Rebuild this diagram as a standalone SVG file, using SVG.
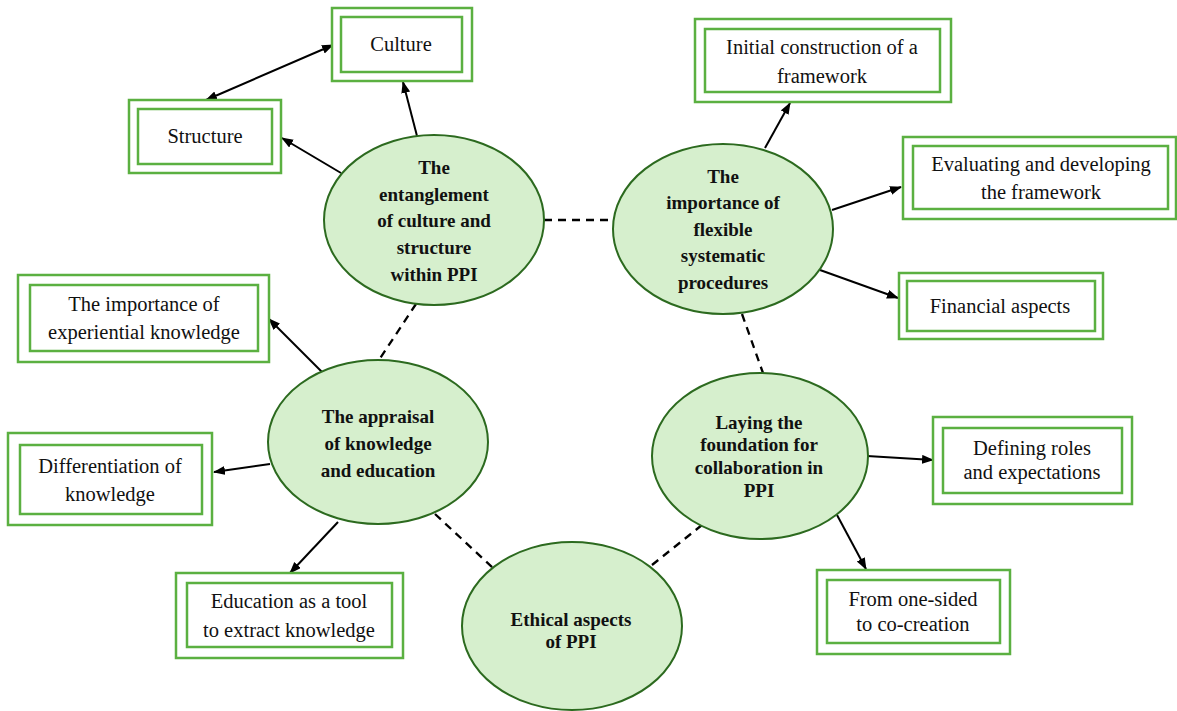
<svg xmlns="http://www.w3.org/2000/svg" width="1177" height="711" viewBox="0 0 1177 711">
<style>
.bo{fill:#fff;stroke:#5bb041;stroke-width:2.5}
.bi{fill:none;stroke:#5bb041;stroke-width:2.5}
.el{fill:#d6efcd;stroke:#2c6a1f;stroke-width:2}
.bt{font-family:"Liberation Serif",serif;font-size:20.5px;fill:#111;text-anchor:middle}
.et{font-family:"Liberation Serif",serif;font-size:19px;font-weight:bold;fill:#111;text-anchor:middle}
.ar{stroke:#000;stroke-width:2;fill:none;marker-end:url(#ah)}
.da{stroke:#000;stroke-width:2.3;fill:none;stroke-dasharray:8 6}
</style>
<defs>
<marker id="ah" markerUnits="userSpaceOnUse" markerWidth="12" markerHeight="10" refX="11" refY="4.5" orient="auto-start-reverse">
<path d="M0,0 L12,4.5 L0,9 z" fill="#000"/>
</marker>
</defs>
<rect width="1177" height="711" fill="#fff"/>
<g id="connectors">
<path class="ar" d="M333,45 L206,100" marker-start="url(#ah)"/>
<path class="ar" d="M417,136 L403,82"/>
<path class="ar" d="M341,173 L282,138"/>
<path class="ar" d="M765,148 L790,103"/>
<path class="ar" d="M832,210 L901,187"/>
<path class="ar" d="M820,270 L898,298"/>
<path class="ar" d="M322,372 L269,319"/>
<path class="ar" d="M270,464 L214,472"/>
<path class="ar" d="M338,522 L290,573"/>
<path class="ar" d="M867,456 L933,460"/>
<path class="ar" d="M837,515 L866,569"/>
<path class="da" d="M544,220 L613,220"/>
<path class="da" d="M416,304 L379,360"/>
<path class="da" d="M742,314 L763,373"/>
<path class="da" d="M435,514 L493,568"/>
<path class="da" d="M652,565 L702,525"/>
</g>
<g id="e1">
<ellipse class="el" cx="434" cy="220" rx="110" ry="85"/>
<text class="et" x="434" y="174">The</text>
<text class="et" x="434" y="201">entanglement</text>
<text class="et" x="434" y="227">of culture and</text>
<text class="et" x="434" y="254">structure</text>
<text class="et" x="434" y="281">within PPI</text>
</g>
<g id="e2">
<ellipse class="el" cx="723" cy="229" rx="110" ry="85"/>
<text class="et" x="723" y="183">The</text>
<text class="et" x="723" y="209">importance of</text>
<text class="et" x="723" y="236">flexible</text>
<text class="et" x="723" y="262">systematic</text>
<text class="et" x="723" y="289">procedures</text>
</g>
<g id="e3">
<ellipse class="el" cx="378" cy="442" rx="110" ry="82"/>
<text class="et" x="378" y="423">The appraisal</text>
<text class="et" x="378" y="450">of knowledge</text>
<text class="et" x="378" y="477">and education</text>
</g>
<g id="e4">
<ellipse class="el" cx="760" cy="456" rx="108" ry="83"/>
<text class="et" x="759" y="429">Laying the</text>
<text class="et" x="759" y="451">foundation for</text>
<text class="et" x="759" y="474">collaboration in</text>
<text class="et" x="759" y="497">PPI</text>
</g>
<g id="e5">
<ellipse class="el" cx="572" cy="626" rx="110" ry="84"/>
<text class="et" x="571" y="626">Ethical aspects</text>
<text class="et" x="571" y="648">of PPI</text>
</g>
<g id="b-culture">
<rect class="bo" x="332" y="8" width="140" height="73"/>
<rect class="bi" x="341" y="17" width="121" height="55"/>
<text class="bt" x="401" y="51">Culture</text>
</g>
<g id="b-structure">
<rect class="bo" x="129" y="100" width="152" height="73"/>
<rect class="bi" x="138" y="109" width="134" height="55"/>
<text class="bt" x="205" y="143">Structure</text>
</g>
<g id="b-initial">
<rect class="bo" x="695" y="19" width="256" height="83"/>
<rect class="bi" x="705" y="29" width="235" height="63"/>
<text class="bt" x="822" y="54">Initial construction of a</text>
<text class="bt" x="822" y="83">framework</text>
</g>
<g id="b-eval">
<rect class="bo" x="903" y="137" width="273" height="82"/>
<rect class="bi" x="913" y="146" width="255" height="63"/>
<text class="bt" x="1041" y="171">Evaluating and developing</text>
<text class="bt" x="1041" y="199">the framework</text>
</g>
<g id="b-fin">
<rect class="bo" x="899" y="273" width="204" height="66"/>
<rect class="bi" x="907" y="281" width="188" height="50"/>
<text class="bt" x="1000" y="313">Financial aspects</text>
</g>
<g id="b-exp">
<rect class="bo" x="18" y="275" width="251" height="87"/>
<rect class="bi" x="30" y="285" width="228" height="66"/>
<text class="bt" x="144" y="311">The importance of</text>
<text class="bt" x="144" y="339">experiential knowledge</text>
</g>
<g id="b-diff">
<rect class="bo" x="8" y="433" width="204" height="92"/>
<rect class="bi" x="20" y="445" width="182" height="69"/>
<text class="bt" x="110" y="473">Differentiation of</text>
<text class="bt" x="110" y="501">knowledge</text>
</g>
<g id="b-edu">
<rect class="bo" x="176" y="573" width="227" height="85"/>
<rect class="bi" x="187" y="583" width="205" height="64"/>
<text class="bt" x="289" y="608">Education as a tool</text>
<text class="bt" x="289" y="637">to extract knowledge</text>
</g>
<g id="b-roles">
<rect class="bo" x="933" y="417" width="199" height="87"/>
<rect class="bi" x="943" y="428" width="179" height="65"/>
<text class="bt" x="1032" y="455">Defining roles</text>
<text class="bt" x="1032" y="479">and expectations</text>
</g>
<g id="b-from">
<rect class="bo" x="817" y="570" width="193" height="84"/>
<rect class="bi" x="827" y="580" width="173" height="63"/>
<text class="bt" x="913" y="606">From one-sided</text>
<text class="bt" x="913" y="631">to co-creation</text>
</g>
</svg>
